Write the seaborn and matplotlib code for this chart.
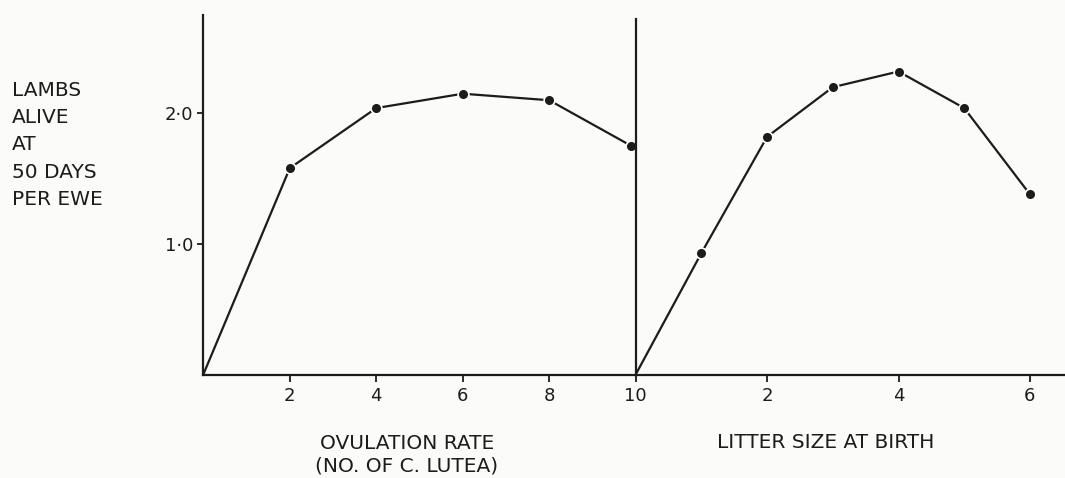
import matplotlib
matplotlib.use("Agg")
import matplotlib.pyplot as plt
import seaborn as sns

## values
ovulation_rate = [0, 2, 4, 6, 8, 9.9]
lambs_by_ovulation = [0, 1.58, 2.04, 2.15, 2.10, 1.75]

litter_size = [0, 1, 2, 3, 4, 5, 6]
lambs_by_litter = [0, 0.93, 1.82, 2.20, 2.32, 2.04, 1.38]

ovulation_ticks = [2, 4, 6, 8, 10]
litter_ticks = [2, 4, 6]
y_ticks = [1.0, 2.0]
y_tick_labels = ["1·0", "2·0"]

ylabel_text = "LAMBS\nALIVE\nAT\n50 DAYS\nPER EWE"
xlabel_left = "OVULATION RATE\n(NO. OF C. LUTEA)"
xlabel_right = "LITTER SIZE AT BIRTH"

sns.set_style("ticks")
plt.rcParams["font.family"] = ["DejaVu Sans"]

ink = "#1c1c1c"
W, H = 1065, 478

fig = plt.figure(figsize=(W / 100, H / 100), dpi=100)
fig.patch.set_facecolor("#fbfbfa")

# axes placed in pixel terms of the original figure
x0, xmid, ybot, ytop = 203.3, 635.7, 374.5, 15
ymax = (ybot - ytop) / 130.6
ax1 = fig.add_axes([x0 / W, (H - ybot) / H, (xmid - x0) / W, (ybot - ytop) / H])
ax2 = fig.add_axes([xmid / W, (H - ybot) / H, (W - xmid) / W, (ybot - ytop) / H])

for ax in (ax1, ax2):
    ax.set_facecolor("none")
    ax.set_ylim(0, ymax)
    for side in ("top", "right"):
        ax.spines[side].set_visible(False)
    for side in ("left", "bottom"):
        ax.spines[side].set_color(ink)
        ax.spines[side].set_linewidth(1.6)
    ax.tick_params(axis="x", bottom=True, direction="out", length=5, width=1.3,
                   color=ink, pad=4, labelsize=13, labelcolor=ink)
    ax.tick_params(axis="y", left=True, direction="out", length=4.5, width=1.3,
                   color=ink, pad=2.5, labelsize=13, labelcolor=ink)

## left panel: ovulation rate
sns.lineplot(x=ovulation_rate, y=lambs_by_ovulation, ax=ax1, color=ink,
             linewidth=1.6, sort=False)
sns.scatterplot(x=ovulation_rate[1:], y=lambs_by_ovulation[1:], ax=ax1, s=60,
                color=ink, edgecolor="white", linewidth=1.2, zorder=3, clip_on=False)
ax1.set_xlim(0, 10)
ax1.set_xticks(ovulation_ticks)
ax1.set_xticklabels([str(t) for t in ovulation_ticks])
ax1.set_yticks(y_ticks)
ax1.set_yticklabels(y_tick_labels)

## right panel: litter size
sns.lineplot(x=litter_size, y=lambs_by_litter, ax=ax2, color=ink,
             linewidth=1.6, sort=False)
sns.scatterplot(x=litter_size[1:], y=lambs_by_litter[1:], ax=ax2, s=60,
                color=ink, edgecolor="white", linewidth=1.2, zorder=3, clip_on=False)
ax2.set_xlim(0, (W - xmid) / 65.7)
ax2.set_xticks(litter_ticks)
ax2.set_xticklabels([str(t) for t in litter_ticks])
ax2.set_yticks([])
ax2.spines["left"].set_bounds(0, (ybot - 19) / 130.6)

## labels
fig.text(12 / W, 1 - 144.8 / H, ylabel_text, ha="left", va="center",
         fontsize=14.5, color=ink, linespacing=1.56)
fig.text(407 / W, 1 - 454.5 / H, xlabel_left, ha="center", va="center",
         fontsize=14.5, color=ink, linespacing=1.25)
fig.text(825.5 / W, 1 - 443 / H, xlabel_right, ha="center", va="center",
         fontsize=14.5, color=ink)

fig.savefig("out.png", dpi=100, facecolor=fig.get_facecolor())
